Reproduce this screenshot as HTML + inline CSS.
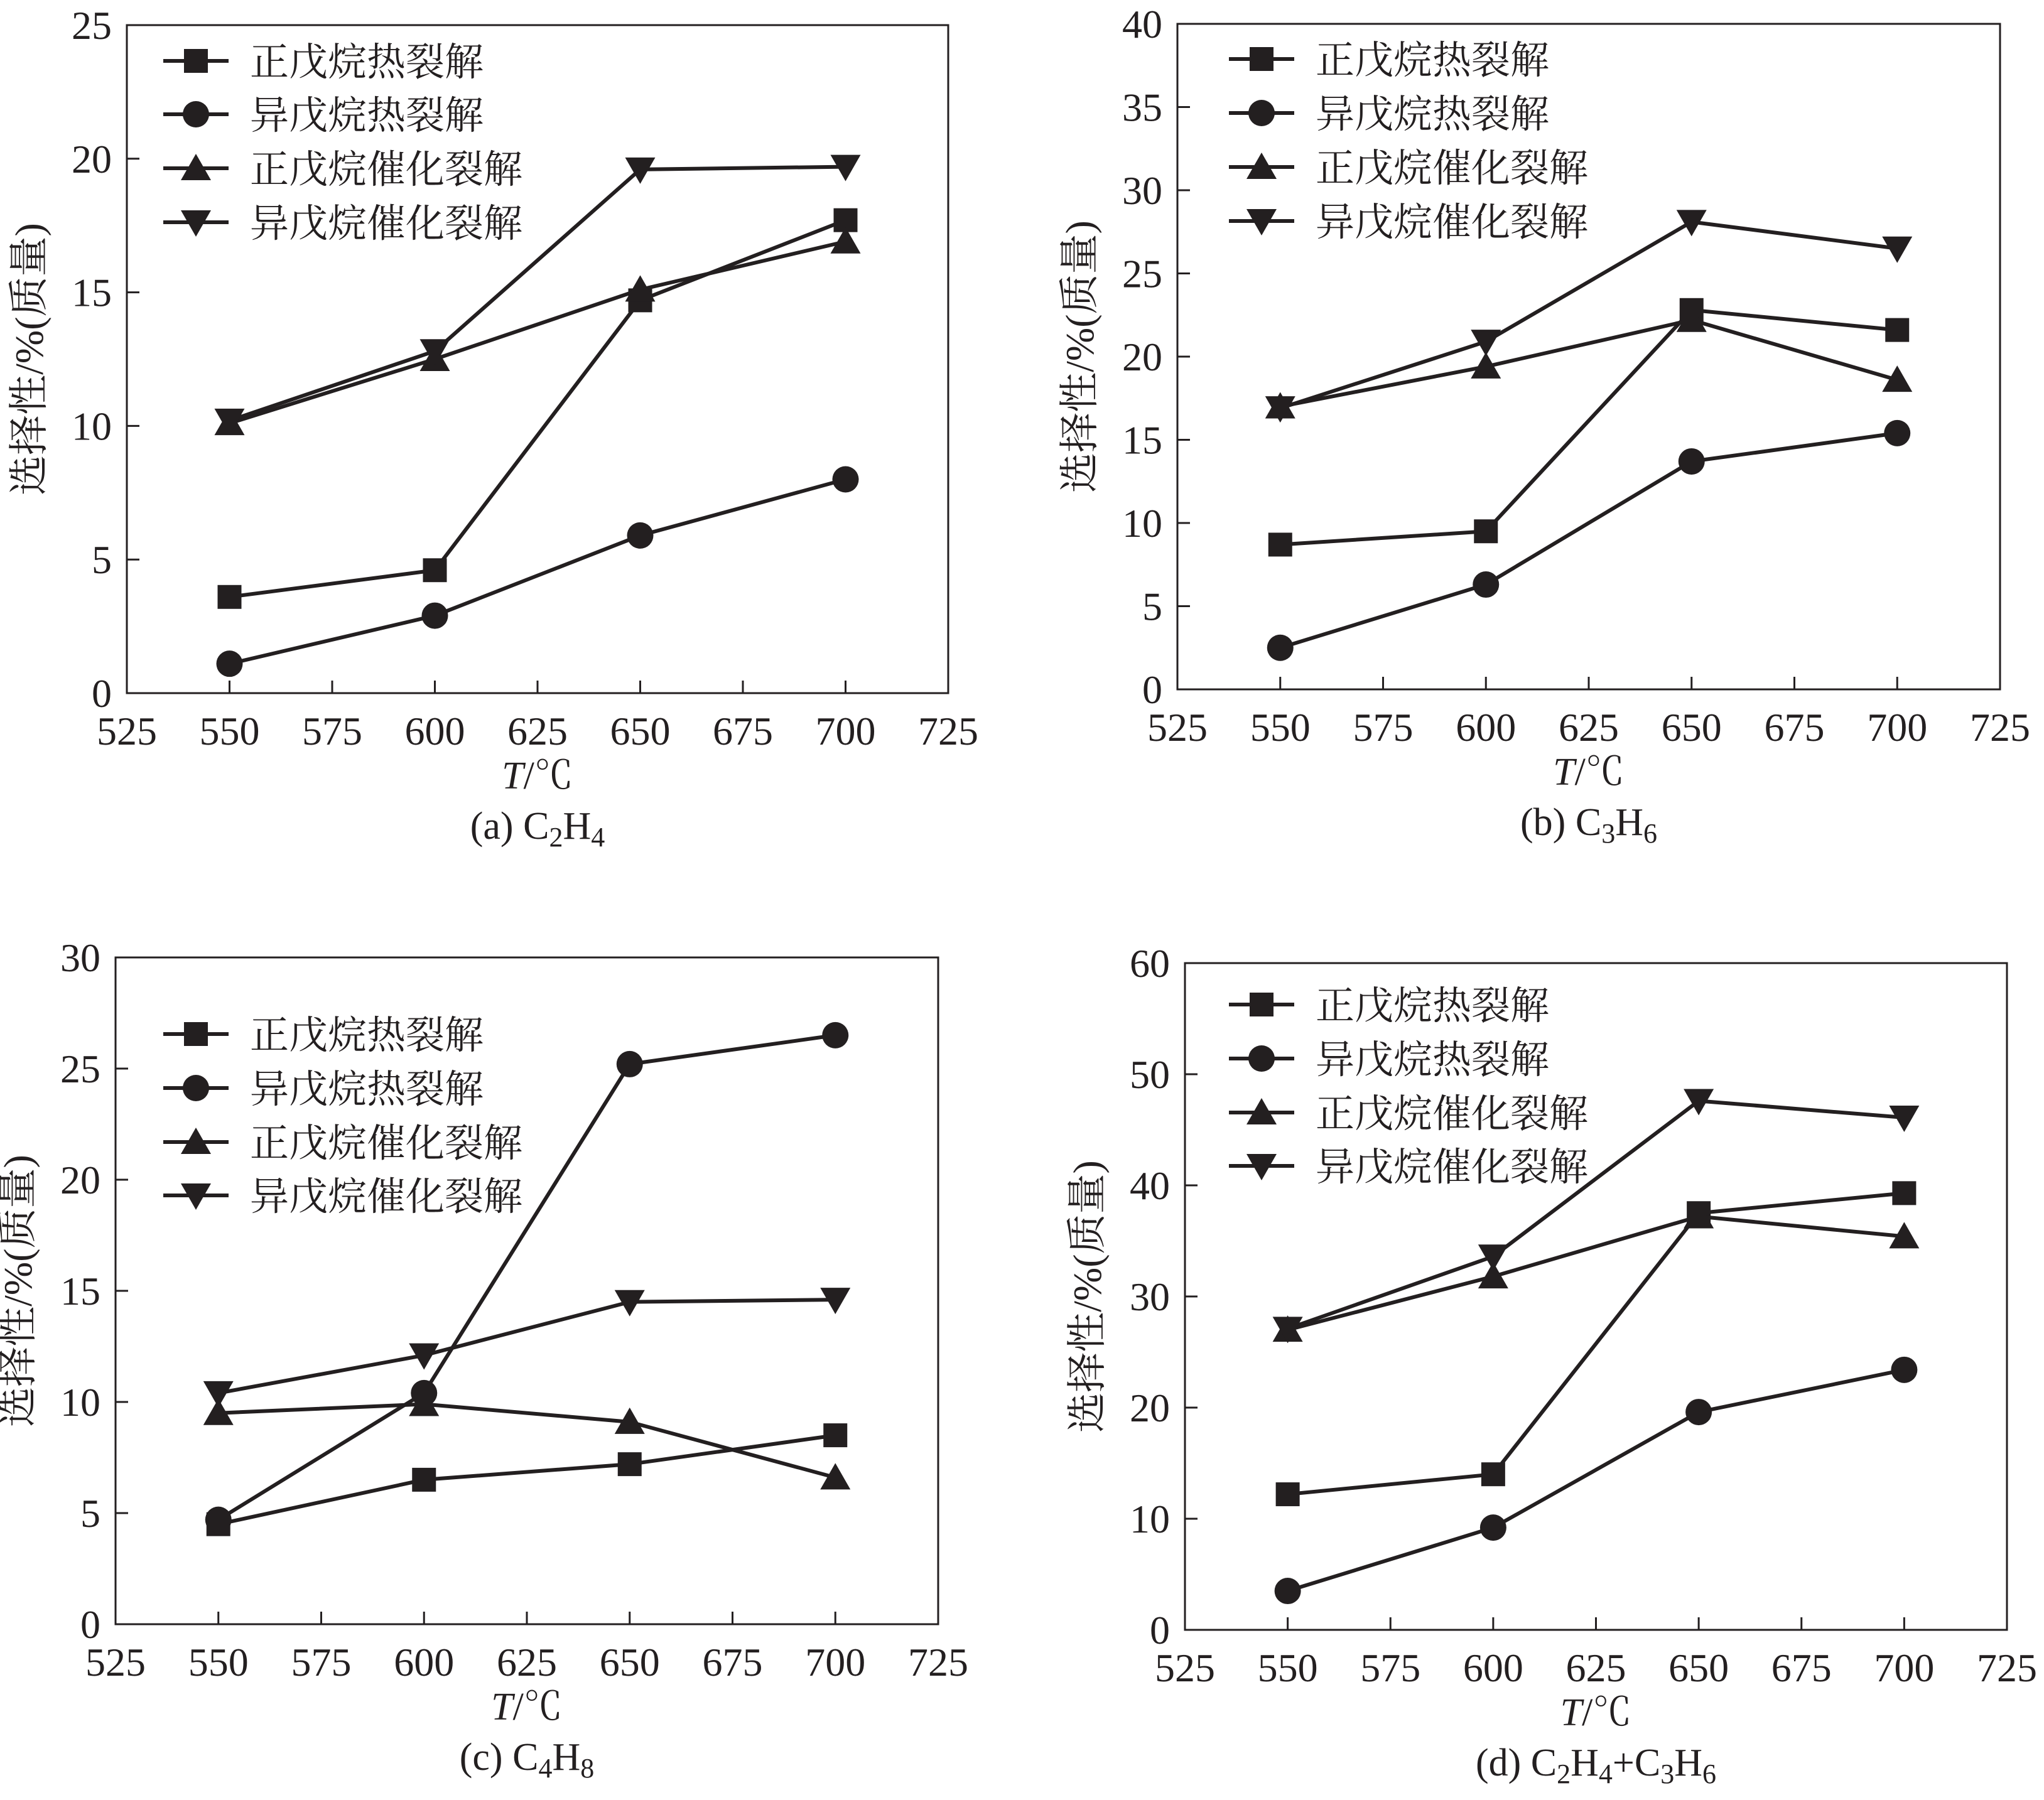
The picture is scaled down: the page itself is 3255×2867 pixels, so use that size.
<!DOCTYPE html>
<html><head><meta charset="utf-8"><style>
html,body{margin:0;padding:0;background:#fff;}
svg{display:block;}
text{font-family:"Liberation Serif","Noto Serif CJK SC",serif;fill:#231f20;}
</style></head><body>
<svg id="fig" width="3255" height="2867" viewBox="0 0 3255 2867" xmlns="http://www.w3.org/2000/svg"></svg>
<script>
const temps = [550, 600, 650, 700];
const xTicks = [525, 550, 575, 600, 625, 650, 675, 700, 725];
const seriesNames = ["正戊烷热裂解", "异戊烷热裂解", "正戊烷催化裂解", "异戊烷催化裂解"];
const seriesMarkers = ["square", "circle", "triangle", "invtriangle"];
// (a) C2H4
const aNThermal = [3.6, 4.6, 14.7, 17.7];
const aIThermal = [1.1, 2.9, 5.9, 8.0];
const aNCat = [10.1, 12.5, 15.1, 16.9];
const aICat = [10.2, 12.8, 19.6, 19.7];
const aYTicks = [0, 5, 10, 15, 20, 25];
// (b) C3H6
const bNThermal = [8.7, 9.5, 22.8, 21.6];
const bIThermal = [2.5, 6.3, 13.7, 15.4];
const bNCat = [17.0, 19.4, 22.2, 18.6];
const bICat = [16.9, 20.9, 28.1, 26.5];
const bYTicks = [0, 5, 10, 15, 20, 25, 30, 35, 40];
// (c) C4H8
const cNThermal = [4.5, 6.5, 7.2, 8.5];
const cIThermal = [4.7, 10.4, 25.2, 26.5];
const cNCat = [9.5, 9.9, 9.1, 6.6];
const cICat = [10.4, 12.1, 14.5, 14.6];
const cYTicks = [0, 5, 10, 15, 20, 25, 30];
// (d) C2H4+C3H6
const dNThermal = [12.2, 14.0, 37.5, 39.3];
const dIThermal = [3.5, 9.2, 19.6, 23.4];
const dNCat = [27.0, 31.8, 37.2, 35.4];
const dICat = [27.1, 33.6, 47.6, 46.1];
const dYTicks = [0, 10, 20, 30, 40, 50, 60];

const NS = "http://www.w3.org/2000/svg";
const svg = document.getElementById("fig");
function mk(tag, attrs, parent) {
  const e = document.createElementNS(NS, tag);
  for (const k in attrs) e.setAttribute(k, attrs[k]);
  parent.appendChild(e);
  return e;
}
function marker(g, type, cx, cy) {
  let m;
  if (type === "square") m = mk("rect", {x: cx-19, y: cy-19, width: 38, height: 38, fill: "#231f20"}, g);
  else if (type === "circle") m = mk("circle", {cx: cx, cy: cy, r: 21, fill: "#231f20"}, g);
  else if (type === "triangle") m = mk("polygon", {points: `${cx},${cy-23} ${cx+24},${cy+19} ${cx-24},${cy+19}`, fill: "#231f20"}, g);
  else m = mk("polygon", {points: `${cx},${cy+23} ${cx+24},${cy-19} ${cx-24},${cy-19}`, fill: "#231f20"}, g);
  return m;
}
function panel(p) {
  const g = mk("g", {}, svg);
  
  
  const L = p.l, R = p.r, T = p.t, B = p.b;
  const xs = v => L + (v - 525) / 200 * (R - L);
  const ys = v => B - v / p.ymax * (B - T);
  const frame = mk("rect", {x: L, y: T, width: R-L, height: B-T, fill: "none", stroke: "#231f20", "stroke-width": 3}, g);
  
  
  xTicks.forEach(v => {
    const x = xs(v);
    const tk = mk("line", {x1: x, y1: B, x2: x, y2: B-20, stroke: "#231f20", "stroke-width": 3}, g);
    
    
    const t = mk("text", {x: x, y: B+82, "font-size": 64, "text-anchor": "middle"}, g);
    t.textContent = v;
    
    
  });
  p.yt.forEach(v => {
    const y = ys(v);
    const tk = mk("line", {x1: L, y1: y, x2: L+20, y2: y, stroke: "#231f20", "stroke-width": 3}, g);
    
    
    const t = mk("text", {x: L-24, y: y+22, "font-size": 64, "text-anchor": "end"}, g);
    t.textContent = v;
    
    
  });
  const xt = mk("text", {x: (L+R)/2, y: B+152, "font-size": 62, "text-anchor": "middle"}, g);
  xt.innerHTML = '<tspan font-style="italic">T</tspan>/℃';
  
  
  const yt = mk("text", {x: 0, y: 0, "font-size": 64, "text-anchor": "middle", transform: `translate(${L-134},${(T+B)/2}) rotate(-90)`}, g);
  yt.textContent = "选择性/%(质量)";
  
  
  const cap = mk("text", {x: (L+R)/2, y: B+232, "font-size": 62, "text-anchor": "middle"}, g);
  cap.innerHTML = p.caption;
  
  
  p.series.forEach((vals, i) => {
    const sg = mk("g", {}, g);
    
    
    const pts = vals.map((v, j) => xs(temps[j]) + "," + ys(v)).join(" ");
    const pl = mk("polyline", {points: pts, fill: "none", stroke: "#231f20", "stroke-width": 6}, sg);
    
    
    vals.forEach((v, j) => {
      const m = marker(sg, seriesMarkers[i], xs(temps[j]), ys(v));
      
      
    });
    const ly = p.legY[i];
    const lg = mk("g", {}, g);
    
    
    mk("line", {x1: p.legX, y1: ly, x2: p.legX+104, y2: ly, stroke: "#231f20", "stroke-width": 6}, lg);
    marker(lg, seriesMarkers[i], p.legX+52, ly);
    const lt = mk("text", {x: p.legX+138, y: ly+23, "font-size": 62}, lg);
    lt.textContent = seriesNames[i];
  });
}
// build caption with subscripts: parts alternate normal / subscript
function caption(parts) {
  let s = "", down = false;
  parts.forEach((txt, k) => {
    const isSub = k % 2 === 1;
    let dy = 0;
    if (isSub && !down) { dy = 12; down = true; }
    else if (!isSub && down) { dy = -12; down = false; }
    s += `<tspan dy="${dy}"${isSub ? ' font-size="44"' : ''}>${txt}</tspan>`;
  });
  return s;
}
panel({name: "panel-a-c2h4", l: 202, r: 1510, t: 40, b: 1104, ymax: 25, yt: aYTicks,
  series: [aNThermal, aIThermal, aNCat, aICat], legX: 260, legY: [97, 182, 268, 354],
  caption: caption(["(a) C", "2", "H", "4"])});
panel({name: "panel-b-c3h6", l: 1875, r: 3185, t: 38, b: 1098, ymax: 40, yt: bYTicks,
  series: [bNThermal, bIThermal, bNCat, bICat], legX: 1957, legY: [94, 180, 266, 352],
  caption: caption(["(b) C", "3", "H", "6"])});
panel({name: "panel-c-c4h8", l: 184, r: 1494, t: 1525, b: 2587, ymax: 30, yt: cYTicks,
  series: [cNThermal, cIThermal, cNCat, cICat], legX: 260, legY: [1647, 1733, 1819, 1904],
  caption: caption(["(c) C", "4", "H", "8"])});
panel({name: "panel-d-c2h4-c3h6", l: 1887, r: 3196, t: 1534, b: 2596, ymax: 60, yt: dYTicks,
  series: [dNThermal, dIThermal, dNCat, dICat], legX: 1957, legY: [1600, 1686, 1772, 1857],
  caption: caption(["(d) C", "2", "H", "4", "+C", "3", "H", "6"])});
</script>
</body></html>
